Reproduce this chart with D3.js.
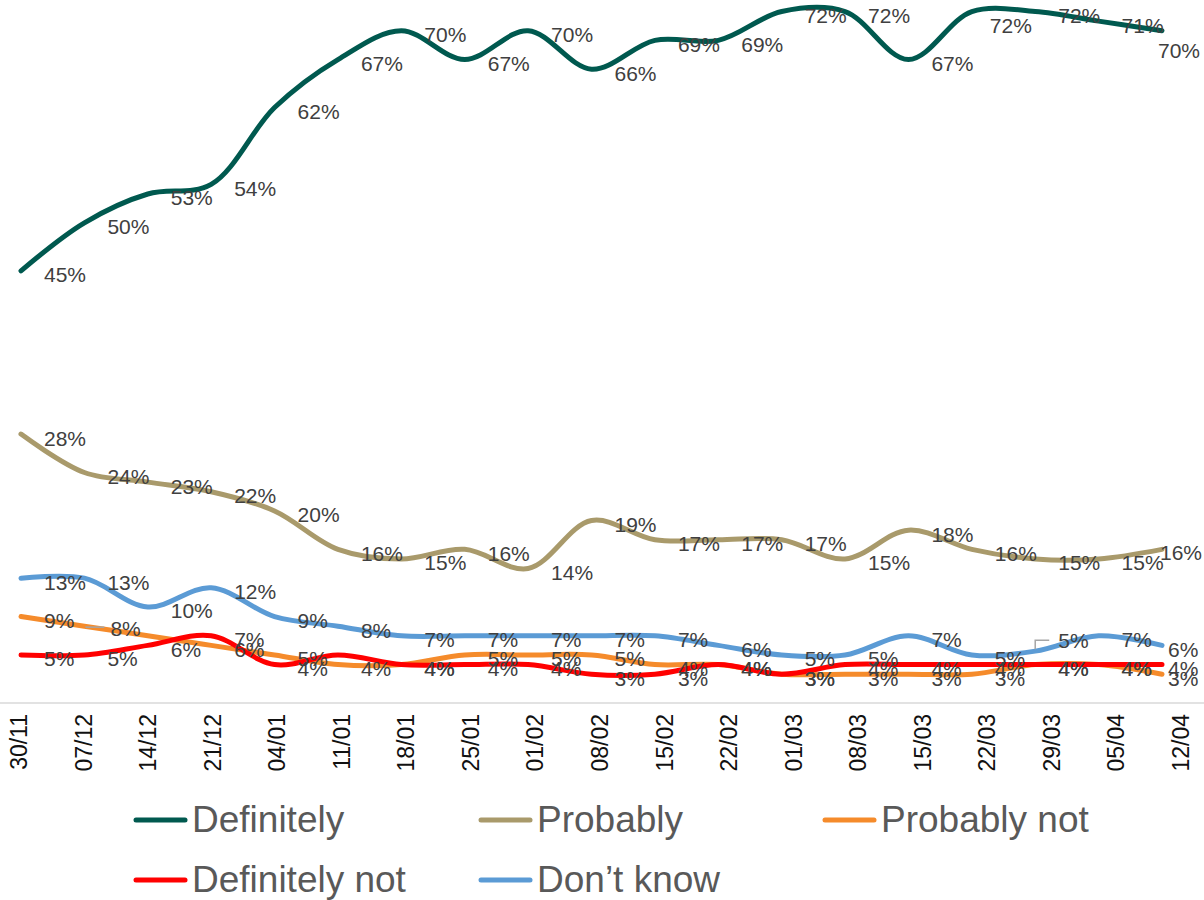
<!DOCTYPE html>
<html>
<head>
<meta charset="utf-8">
<script src="https://cdn.jsdelivr.net/npm/d3@7"></script>
<style>
  html, body { margin: 0; padding: 0; background: #fff; }
  svg { display: block; font-family: "Liberation Sans", Arial, sans-serif; }
</style>
</head>
<body>
<svg id="chart" width="1204" height="900"></svg>
<script>
// ---- data ----
const categories = ["30/11","07/12","14/12","21/12","04/01","11/01","18/01","25/01","01/02","08/02","15/02","22/02","01/03","08/03","15/03","22/03","29/03","05/04","12/04"];
const definitely    = [45,50,53,54,62,67,70,67,70,66,69,69,72,72,67,72,72,71,70];
const probably      = [28,24,23,22,20,16,15,16,14,19,17,17,17,15,18,16,15,15,16];
const probablyNot   = [9,8,7,6,5,4,4,5,5,5,4,4,3,3,3,3,4,4,3];
const definitelyNot = [5,5,6,7,4,5,4,4,4,3,3,4,3,4,4,4,4,4,4];
const dontKnow      = [13,13,10,12,9,8,7,7,7,7,7,6,5,5,7,5,5.4,7,6];
const seriesNames   = ["Definitely","Probably","Probably not","Definitely not","Don’t know"];

// ---- styles / layout ----
const colors = {"Definitely":"#00594f","Probably":"#a99a6b","Probably not":"#f58b2b","Definitely not":"#ff0000","Don’t know":"#5b9bd5"};
const seriesData = [definitely, probably, probablyNot, definitelyNot, dontKnow];
const hiddenLabels = new Set(["Probably not|2","Definitely not|5"]);
const labelNudges = {
  "Definitely|15":[18,14],
  "Definitely|18":[-4,20],
  "Probably|18":[-2,3],
  "Probably not|1":[26,2],
  "Don’t know|16":[23,-11]
};
const leaders = {"Probably not|1":"h","Don’t know|16":"up"};

const svg = d3.select("#chart");
const x = d3.scalePoint().domain(categories).range([21, 1162]);
const xTick = d3.scalePoint().domain(categories).range([19, 1181]);
const y = d3.scaleLinear().domain([0, 73.2]).range([703, 0]);

// axis line
svg.append("line").attr("x1",0).attr("x2",1204).attr("y1",y(0)).attr("y2",y(0))
  .attr("stroke","#d9d9d9").attr("stroke-width",1.5);

// x tick labels
svg.append("g").selectAll("text").data(categories).join("text")
  .attr("transform", d => `translate(${xTick(d)},${y(0)+11}) rotate(-90)`)
  .attr("text-anchor","end").attr("dominant-baseline","central")
  .attr("font-size",23).attr("fill","#111").text(d => d);

const line = d3.line().x((d,i) => x(categories[i])).y(d => y(d)).curve(d3.curveCatmullRom.alpha(0.5));

seriesNames.forEach((name, si) => {
  svg.append("path").datum(seriesData[si]).attr("d", line)
    .attr("fill","none").attr("stroke",colors[name]).attr("stroke-width",5)
    .attr("stroke-linecap","round").attr("stroke-linejoin","round");
});

// leaders
Object.keys(leaders).forEach(key => {
  const [name, idx] = key.split("|");
  const si = seriesNames.indexOf(name), i = +idx;
  const px = x(categories[i]), py = y(seriesData[si][i]);
  const nd = labelNudges[key];
  let pts;
  if (leaders[key] === "h") pts = [[px+1, py+1],[px+nd[0]-6, py+1]];
  else pts = [[px, py-2],[px, py+nd[1]],[px+nd[0]-9, py+nd[1]]];
  svg.append("path").attr("d", d3.line()(pts)).attr("fill","none")
    .attr("stroke","#a6a6a6").attr("stroke-width",1.5);
});

// data labels
seriesNames.forEach((name, si) => {
  const g = svg.append("g");
  seriesData[si].forEach((v, i) => {
    const key = name + "|" + i;
    if (hiddenLabels.has(key)) return;
    let dx = 23, dy = 4;
    if (i === categories.length - 1) { dx = 6; dy = 4; }
    if (labelNudges[key]) { dx = labelNudges[key][0]; dy = labelNudges[key][1]; }
    g.append("text")
      .attr("x", x(categories[i]) + dx).attr("y", y(v) + dy)
      .attr("dominant-baseline","central").attr("font-size",21).attr("fill","#404040")
      .text(Math.round(v) + "%");
  });
});

// legend
const legendItems = [
  {name:"Definitely", col:0, row:0},
  {name:"Probably", col:1, row:0},
  {name:"Probably not", col:2, row:0},
  {name:"Definitely not", col:0, row:1},
  {name:"Don’t know", col:1, row:1}
];
const colX = [133, 478, 822], rowY = [820, 880];
const lg = svg.append("g");
legendItems.forEach(it => {
  const lx = colX[it.col], ly = rowY[it.row];
  lg.append("line").attr("x1",lx+3).attr("x2",lx+52).attr("y1",ly).attr("y2",ly)
    .attr("stroke",colors[it.name]).attr("stroke-width",5).attr("stroke-linecap","round");
  lg.append("text").attr("x",lx+59).attr("y",ly+12).attr("font-size",37).attr("fill","#595959")
    .text(it.name);
});
</script>
</body>
</html>
